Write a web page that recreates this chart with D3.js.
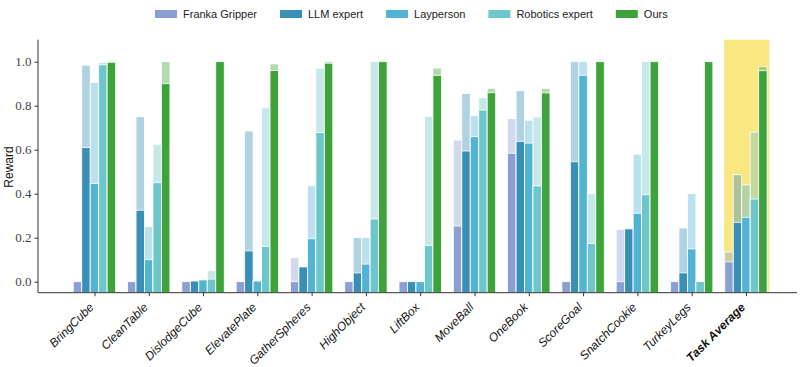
<!DOCTYPE html>
<html><head><meta charset="utf-8">
<script src="https://cdn.jsdelivr.net/npm/d3@7/dist/d3.min.js"></script>
<style>body{margin:0;background:#fff}svg{display:block}</style>
</head><body><svg id="c" width="800" height="367"></svg>
<script>
const categories = ["BringCube","CleanTable","DislodgeCube","ElevatePlate","GatherSpheres","HighObject","LiftBox","MoveBall","OneBook","ScoreGoal","SnatchCookie","TurkeyLegs","Task Average"];
const seriesNames = ["Franka Gripper","LLM expert","Layperson","Robotics expert","Ours"];
const seriesColors = ["#8b9fd3","#3a8fb7","#52b3d3","#6dc6c9","#3fa33c"];
const frankaMean = [0,0,0,0,0,0,0,0.253,0.584,0,0,0,0.09];
const frankaMax  = [0,0,0,0,0.11,0,0,0.644,0.741,0,0.238,0,0.135];
const llmMean    = [0.61,0.325,0.003,0.14,0.067,0.04,0,0.594,0.638,0.545,0.24,0.04,0.27];
const llmMax     = [0.984,0.75,0.003,0.685,0.067,0.2,0,0.856,0.868,1.0,0.24,0.244,0.486];
const layMean    = [0.447,0.10,0.008,0.003,0.195,0.08,0,0.659,0.63,0.938,0.311,0.149,0.293];
const layMax     = [0.905,0.25,0.008,0.003,0.436,0.2,0,0.755,0.734,1.0,0.58,0.40,0.44];
const robMean    = [0.986,0.45,0.012,0.16,0.678,0.285,0.164,0.78,0.435,0.173,0.395,0.0,0.376];
const robMax     = [0.997,0.625,0.05,0.79,0.97,1.0,0.75,0.836,0.749,0.40,1.0,0.0,0.68];
const oursMean   = [0.997,0.90,1.0,0.96,0.993,1.0,0.938,0.859,0.858,1.0,1.0,1.0,0.959];
const oursMax    = [1.0,1.0,1.0,0.99,1.0,1.0,0.971,0.879,0.879,1.0,1.0,1.0,0.979];
const yTicks = [0,0.2,0.4,0.6,0.8,1.0];

const means = [frankaMean,llmMean,layMean,robMean,oursMean];
const maxes = [frankaMax,llmMax,layMax,robMax,oursMax];

const svg = d3.select("#c");
const x = d3.scaleLinear().domain([-1.04,12.94]).range([38,797]);
const y = d3.scaleLinear().domain([-0.05,1.1]).range([292.7,39.7]);
const bw = 0.156;
const offs = [-2,-1,0,1,2].map(k=>k*bw);

// highlight for average
const avgI = categories.length-1;
svg.append("rect").attr("x",x(avgI-0.4)).attr("width",x(avgI+0.43)-x(avgI-0.4))
  .attr("y",y(1.1)).attr("height",y(-0.05)-y(1.1)).attr("fill","#f9e782");

const g = svg.append("g");
seriesNames.forEach((s,si)=>{
  const data = categories.map((c,i)=>({i,mean:means[si][i],max:maxes[si][i]}));
  g.selectAll(null).data(data).join("rect")
    .attr("x",d=>x(d.i+offs[si]-bw/2)).attr("width",x(bw)-x(0))
    .attr("y",d=>y(d.max)).attr("height",d=>y(-0.05)-y(d.max))
    .attr("fill",seriesColors[si]).attr("fill-opacity",0.4)
    .attr("stroke","#fff").attr("stroke-width",0.8);
  g.selectAll(null).data(data).join("rect")
    .attr("x",d=>x(d.i+offs[si]-bw/2)).attr("width",x(bw)-x(0))
    .attr("y",d=>y(d.mean)).attr("height",d=>y(-0.05)-y(d.mean))
    .attr("fill",seriesColors[si])
    .attr("stroke","#fff").attr("stroke-width",0.8);
});

// y axis
const ya = svg.append("g").attr("transform","translate(38,0)")
  .call(d3.axisLeft(y).tickValues(yTicks).tickFormat(d3.format(".1f")).tickSize(3.5).tickPadding(3));
ya.select(".domain").attr("stroke","#333").attr("d","M0,"+y(1.1)+"V"+y(-0.05));
ya.selectAll(".tick line").attr("stroke","#333");
ya.selectAll("text").attr("font-family","'Liberation Serif',serif").attr("font-size",13).attr("fill","#444");

// x axis
const xa = svg.append("g").attr("transform","translate(0,"+y(-0.05)+")")
  .call(d3.axisBottom(x).tickValues(d3.range(categories.length)).tickFormat("").tickSize(3.5));
xa.select(".domain").attr("stroke","#333").attr("d","M38,0H797");
xa.selectAll(".tick line").attr("stroke","#333");
svg.append("g").selectAll("text").data(categories).join("text")
  .attr("transform",(d,i)=>"translate("+(x(i)-6)+",302) rotate(-45)")
  .attr("text-anchor","end").attr("dy","0.7em")
  .attr("font-family","'Liberation Sans',Arial,sans-serif").attr("font-size",12)
  .attr("font-style","italic").attr("font-weight",(d,i)=>i===avgI?"bold":"normal")
  .attr("fill","#111").text(d=>d);

svg.append("text").attr("transform","translate(13,167) rotate(-90)")
  .attr("text-anchor","middle").attr("font-family","'Liberation Sans',Arial,sans-serif")
  .attr("font-size",12).attr("fill","#111").text("Reward");

// legend
const leg = svg.append("g");
let lx = 155;
seriesNames.forEach((s,si)=>{
  leg.append("rect").attr("x",lx).attr("y",10).attr("width",22).attr("height",8).attr("fill",seriesColors[si]);
  const t = leg.append("text").attr("x",lx+28).attr("y",18)
    .attr("font-family","'Liberation Sans',Arial,sans-serif").attr("font-size",11).attr("fill","#222").text(s);
  lx += 28 + t.node().getComputedTextLength() + 23;
});
</script></body></html>
